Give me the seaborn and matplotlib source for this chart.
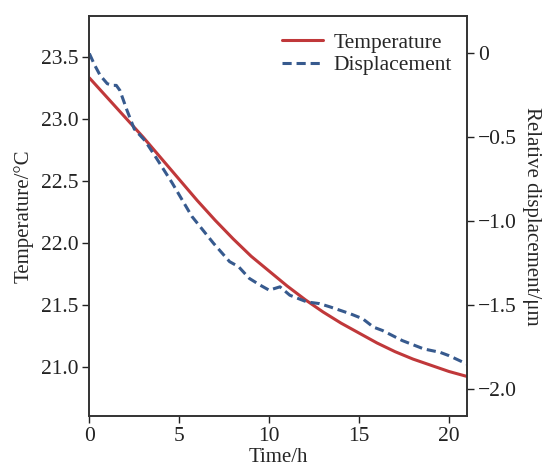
import matplotlib
matplotlib.use('Agg')
import numpy as np
import pandas as pd
import matplotlib.pyplot as plt
import seaborn as sns

# values
temp_time = [0, 1, 2, 3, 4, 5, 6, 7, 8, 9, 10, 11, 12, 13, 14, 15, 16, 17, 18, 19, 20, 21]
temp_values = [23.33, 23.17, 23.01, 22.85, 22.68, 22.51, 22.34, 22.18, 22.03, 21.89, 21.77,
               21.65, 21.54, 21.44, 21.35, 21.27, 21.19, 21.12, 21.06, 21.01, 20.96, 20.92]

disp_time = [0, 0.3, 0.6, 1.0, 1.3, 1.5, 1.7, 2.1, 2.5, 3.1, 3.65, 4.6, 5.7, 6.15, 6.9, 7.8,
             8.3, 8.9, 9.5, 10.0, 10.6, 11.15, 12.1, 12.8, 13.4, 14.5, 15.2, 15.8, 16.3,
             17.4, 18.6, 19.5, 20.0, 21.0]
disp_values = [0.0, -0.07, -0.13, -0.18, -0.19, -0.19, -0.22, -0.34, -0.45, -0.52, -0.61,
               -0.77, -0.97, -1.03, -1.13, -1.24, -1.27, -1.34, -1.38, -1.41, -1.39, -1.44,
               -1.48, -1.49, -1.51, -1.55, -1.58, -1.63, -1.65, -1.71, -1.76, -1.78, -1.80, -1.85]

x_ticks = [0, 5, 10, 15, 20]
temp_ticks = [21.0, 21.5, 22.0, 22.5, 23.0, 23.5]
disp_ticks = [0, -0.5, -1.0, -1.5, -2.0]
disp_tick_labels = ['0', '\u22120.5', '\u22121.0', '\u22121.5', '\u22122.0']

RED = '#c0383a'
BLUE = '#375a8e'

sns.set_style('ticks')
plt.rcParams['font.family'] = ['Liberation Serif', 'DejaVu Serif']


def main():
    temp_df = pd.DataFrame({'time': temp_time, 'temp': temp_values})
    disp_df = pd.DataFrame({'time': disp_time, 'disp': disp_values})

    fig = plt.figure(figsize=(5.43, 4.67), dpi=100)
    ax = fig.add_axes([0.1645, 0.109, 0.6955, 0.857])
    ax2 = ax.twinx()

    sns.lineplot(data=temp_df, x='time', y='temp', ax=ax, color=RED, linewidth=2.2,
                 label='Temperature', legend=False)
    sns.lineplot(data=disp_df, x='time', y='disp', ax=ax2, color=BLUE, linewidth=2.2,
                 linestyle=(0, (3.0, 1.6)), label='Displacement', legend=False)

    ax.set_xlim(0, 21)
    ax.set_ylim(20.6, 23.83)
    ax2.set_ylim(-2.16, 0.224)

    ax.set_xticks(x_ticks)
    ax.set_yticks(temp_ticks)
    ax.set_yticklabels([f'{v:.1f}' for v in temp_ticks])
    ax2.set_yticks(disp_ticks)
    ax2.set_yticklabels(disp_tick_labels)

    for a in (ax, ax2):
        a.tick_params(labelsize=15.5, length=5, width=1, direction='out', colors='#222222', pad=3)
        for s in a.spines.values():
            s.set_color('#333333')
            s.set_linewidth(1.2)

    ax.set_xlabel('Time/h', fontsize=15, labelpad=1)
    ax.set_ylabel('Temperature/°C', fontsize=15, labelpad=5)
    ax2.set_ylabel('Relative displacement/\u03bcm', fontsize=15, rotation=270, labelpad=17)

    h1, l1 = ax.get_legend_handles_labels()
    h2, l2 = ax2.get_legend_handles_labels()
    ax2.legend(h1 + h2, l1 + l2, loc='upper right', frameon=False, fontsize=15.5,
               handlelength=1.9, handletextpad=0.5, labelspacing=0.1,
               borderaxespad=0.3, bbox_to_anchor=(1.0, 0.995))

    plt.savefig('out.png', dpi=100)
    plt.close()


if __name__ == '__main__':
    main()
